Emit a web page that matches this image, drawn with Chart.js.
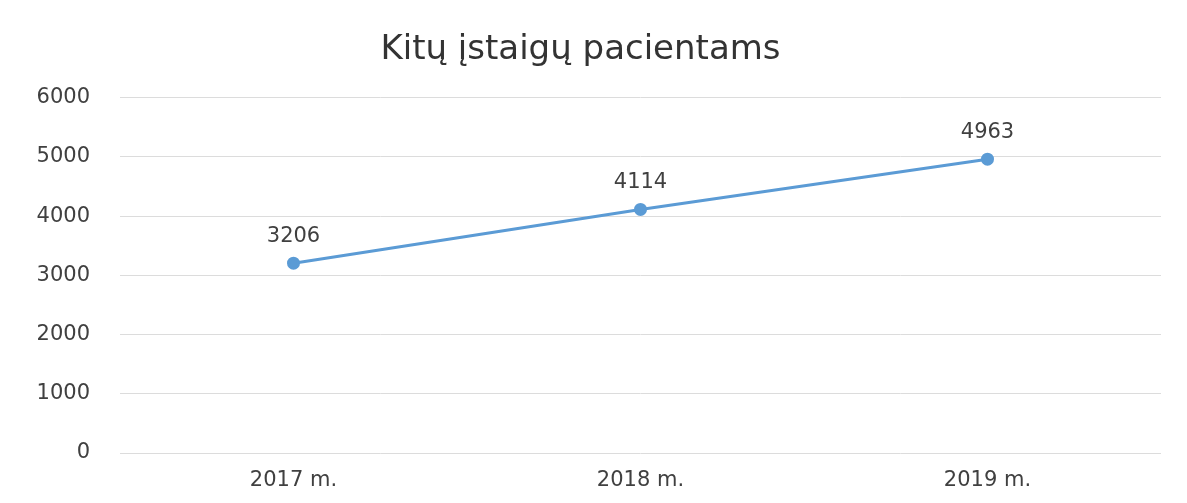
<!DOCTYPE html>
<html>
<head>
<meta charset="utf-8">
<script src="https://cdn.jsdelivr.net/npm/chart.js@4/dist/chart.umd.min.js"></script>
<style>
  html, body { margin: 0; padding: 0; background: #ffffff; }
  #wrap { width: 1187px; height: 503px; }
</style>
</head>
<body>
<div id="wrap"><canvas id="chart" width="1187" height="503"></canvas></div>
<script>
const TITLE = 'Kitų įstaigų pacientams';
const YEARS = ['2017 m.', '2018 m.', '2019 m.'];
const PATIENTS = [3206, 4114, 4963];
const Y_TICKS = [0, 1000, 2000, 3000, 4000, 5000, 6000];

const LINE_COLOR = '#5b9bd5';
const TEXT_COLOR = '#404040';
const FONT = "'DejaVu Sans', sans-serif";

// draws the value above each point
const valueLabels = {
    id: 'valueLabels',
    afterDatasetsDraw(chart) {
        const ctx = chart.ctx;
        const meta = chart.getDatasetMeta(0);
        ctx.save();
        ctx.font = `21px ${FONT}`;
        ctx.fillStyle = TEXT_COLOR;
        ctx.textAlign = 'center';
        ctx.textBaseline = 'middle';
        meta.data.forEach((pt, i) => {
            ctx.fillText(String(PATIENTS[i]), pt.x, pt.y - 27);
        });
        ctx.restore();
    }
};

new Chart(document.getElementById('chart'), {
    type: 'line',
    data: {
        labels: YEARS,
        datasets: [{
            data: PATIENTS,
            borderColor: LINE_COLOR,
            backgroundColor: LINE_COLOR,
            borderWidth: 3,
            pointRadius: 5,
            pointBackgroundColor: LINE_COLOR,
            pointBorderColor: LINE_COLOR,
            tension: 0
        }]
    },
    options: {
        responsive: false,
        animation: false,
        layout: { padding: { left: 0, right: 26, top: 0, bottom: 0 } },
        plugins: {
            legend: { display: false },
            tooltip: { enabled: false },
            title: {
                display: true,
                text: TITLE,
                color: '#333333',
                font: { family: FONT, size: 34, weight: 'normal' },
                padding: { top: 30, bottom: 27 }
            }
        },
        scales: {
            x: {
                offset: true,
                afterFit(scale) { scale.height = 50; },
                grid: { display: false, drawTicks: false },
                border: { display: false },
                ticks: {
                    color: TEXT_COLOR,
                    padding: 15,
                    font: { family: FONT, size: 21 }
                }
            },
            y: {
                min: 0,
                max: 6000,
                afterFit(scale) { scale.width = 120; },
                afterBuildTicks(scale) { scale.ticks = Y_TICKS.map(v => ({ value: v })); },
                grid: { color: '#dcdcdc', lineWidth: 1, drawTicks: false },
                border: { display: false },
                ticks: {
                    color: TEXT_COLOR,
                    padding: 30,
                    font: { family: FONT, size: 21 },
                    callback: v => String(v)
                }
            }
        }
    },
    plugins: [valueLabels]
});
</script>
</body>
</html>
